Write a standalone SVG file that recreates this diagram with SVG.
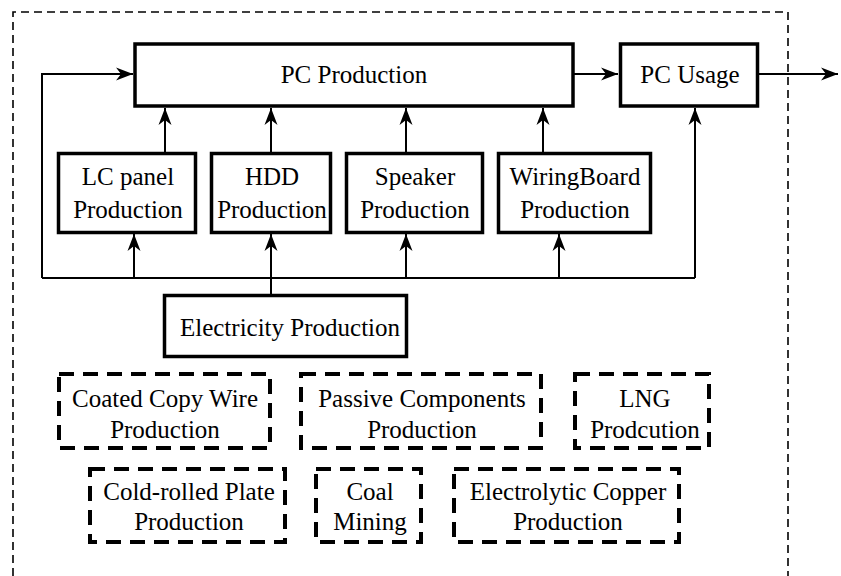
<svg xmlns="http://www.w3.org/2000/svg" width="841" height="576" viewBox="0 0 841 576">
  <style>
    .box { fill: #fff; stroke: #000; stroke-width: 3.5; }
    .dbox { fill: none; stroke: #000; stroke-width: 4; stroke-dasharray: 15 9; }
    .lbl { font-family: Liberation Serif, Times New Roman, Times, serif; font-size: 25px; fill: #000; text-anchor: middle; }
    .wire { fill: none; stroke: #000; stroke-width: 2; }
    .arrow { fill: none; stroke: #000; stroke-width: 2; marker-end: url(#head); }
    .border { fill: none; stroke: #000; stroke-width: 1.6; stroke-dasharray: 8 5; }
  </style>
  <defs>
    <marker id="head" markerUnits="userSpaceOnUse" markerWidth="20" markerHeight="16" viewBox="-18 -8 20 16" refX="0" refY="0" orient="auto">
      <path d="M0,0 L-17,-6.5 L-12,0 L-17,6.5 Z" fill="#000"/>
    </marker>
  </defs>
  <rect width="841" height="576" fill="#fff"/>

  <!-- system boundary -->
  <path class="border" d="M13,576 V12 H788 V576"/>

  <!-- connectors -->
  <g id="connectors">
    <path class="arrow" d="M42,278 V74 H133"/>
    <path class="arrow" d="M573,74 H618"/>
    <path class="arrow" d="M757,74 H838"/>
    <path class="wire" d="M42,278 H695"/>
    <path class="arrow" d="M695,278 V108"/>
    <path class="arrow" d="M165,152 V108"/>
    <path class="arrow" d="M271,152 V108"/>
    <path class="arrow" d="M406,152 V108"/>
    <path class="arrow" d="M543,152 V108"/>
    <path class="arrow" d="M134,278 V234"/>
    <path class="arrow" d="M271,278 V234"/>
    <path class="arrow" d="M406,278 V234"/>
    <path class="arrow" d="M559,278 V234"/>
    <path class="wire" d="M271,295 V278"/>
  </g>

  <!-- solid process nodes -->
  <g id="pc-production">
    <rect class="box" x="135" y="44" width="438" height="62"/>
    <text class="lbl" x="354" y="83">PC Production</text>
  </g>
  <g id="pc-usage">
    <rect class="box" x="620.5" y="44" width="137" height="62"/>
    <text class="lbl" x="690" y="83">PC Usage</text>
  </g>
  <g id="lc-panel">
    <rect class="box" x="58.5" y="153.5" width="137" height="79"/>
    <text class="lbl" x="128" y="185">LC panel</text>
    <text class="lbl" x="128" y="218">Production</text>
  </g>
  <g id="hdd">
    <rect class="box" x="211.5" y="153.5" width="119" height="79"/>
    <text class="lbl" x="272" y="185">HDD</text>
    <text class="lbl" x="272" y="218">Production</text>
  </g>
  <g id="speaker">
    <rect class="box" x="346.5" y="153.5" width="136" height="79"/>
    <text class="lbl" x="415" y="185">Speaker</text>
    <text class="lbl" x="415" y="218">Production</text>
  </g>
  <g id="wiring-board">
    <rect class="box" x="498.5" y="153.5" width="152" height="79"/>
    <text class="lbl" x="575" y="185">WiringBoard</text>
    <text class="lbl" x="575" y="218">Production</text>
  </g>
  <g id="electricity">
    <rect class="box" x="164.5" y="295.5" width="242" height="61"/>
    <text class="lbl" x="290" y="336">Electricity Production</text>
  </g>

  <!-- dashed (background) process nodes -->
  <g id="coated-copy-wire">
    <rect class="dbox" x="59" y="374" width="211" height="74"/>
    <text class="lbl" x="165" y="407">Coated Copy Wire</text>
    <text class="lbl" x="165" y="438">Production</text>
  </g>
  <g id="passive-components">
    <rect class="dbox" x="301" y="374" width="240" height="74"/>
    <text class="lbl" x="422" y="407">Passive Components</text>
    <text class="lbl" x="422" y="438">Production</text>
  </g>
  <g id="lng">
    <rect class="dbox" x="575" y="374" width="134" height="74"/>
    <text class="lbl" x="645" y="407">LNG</text>
    <text class="lbl" x="645" y="438">Prodcution</text>
  </g>
  <g id="cold-rolled-plate">
    <rect class="dbox" x="90" y="469" width="195" height="73"/>
    <text class="lbl" x="189" y="500">Cold-rolled Plate</text>
    <text class="lbl" x="189" y="530">Production</text>
  </g>
  <g id="coal-mining">
    <rect class="dbox" x="316" y="469" width="105" height="73"/>
    <text class="lbl" x="370" y="500">Coal</text>
    <text class="lbl" x="370" y="530">Mining</text>
  </g>
  <g id="electrolytic-copper">
    <rect class="dbox" x="454" y="469" width="225" height="73"/>
    <text class="lbl" x="568" y="500">Electrolytic Copper</text>
    <text class="lbl" x="568" y="530">Production</text>
  </g>
</svg>
